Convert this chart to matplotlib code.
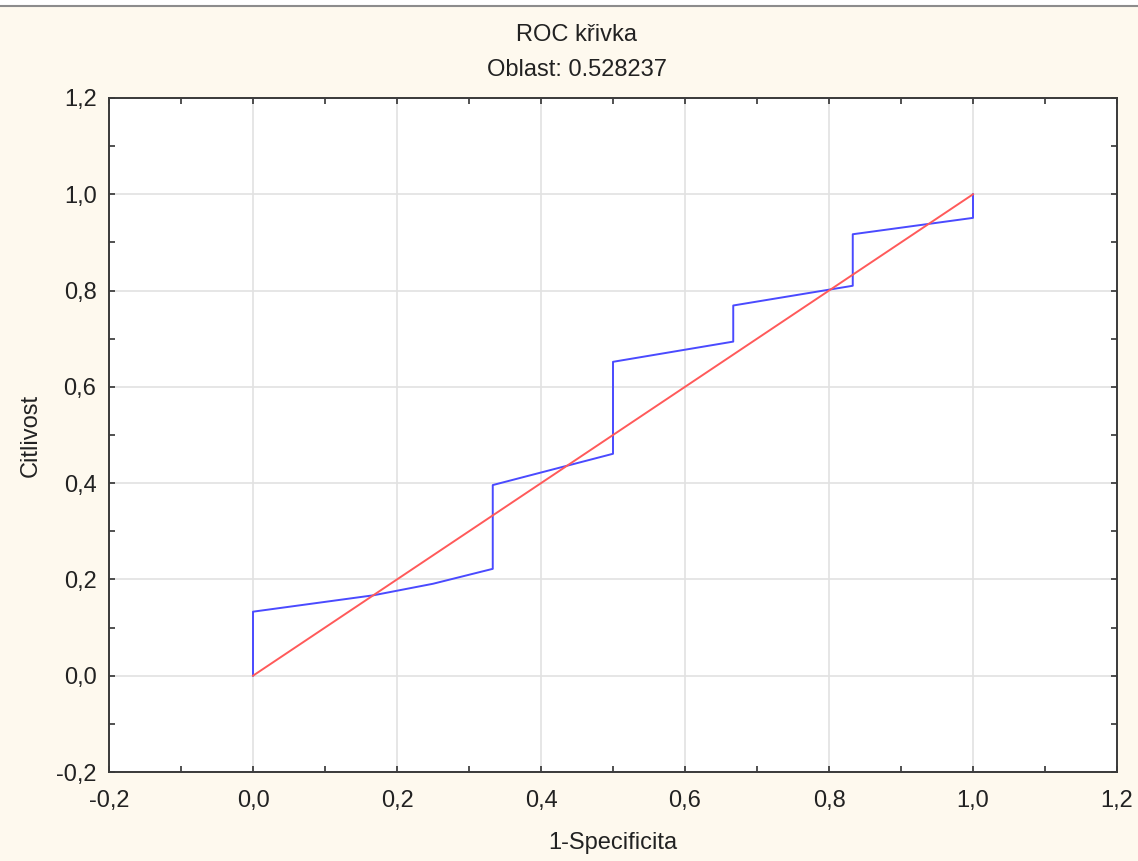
import numpy as np
import matplotlib.pyplot as plt
from matplotlib.lines import Line2D
from matplotlib.patches import Rectangle
from matplotlib.ticker import MultipleLocator, FuncFormatter

plt.rcParams['font.family'] = ['Liberation Sans', 'DejaVu Sans']

# Data
fpr = [0.0, 0.0, 0.167, 0.25, 0.333, 0.333, 0.5, 0.5, 0.667, 0.667, 0.833, 0.833, 1.0, 1.0]
tpr = [0.0, 0.133, 0.167, 0.191, 0.222, 0.396, 0.461, 0.652, 0.694, 0.769, 0.810, 0.917, 0.951, 1.0]
diag_x = [0.0, 1.0]
diag_y = [0.0, 1.0]
area = 0.528237

bg = '#fef9ee'
fig = plt.figure(figsize=(11.38, 8.61), dpi=100, facecolor=bg)
# white strip + gray rule at the very top
fig.add_artist(Rectangle((0, 1 - 6 / 861), 1, 6 / 861, transform=fig.transFigure,
                         facecolor='white', edgecolor='none'))
fig.add_artist(Line2D([0, 1], [1 - 6 / 861, 1 - 6 / 861], transform=fig.transFigure,
                      color='#8c8c8c', lw=1.5))

ax = fig.add_axes([109 / 1138, 1 - 772 / 861, (1117 - 109) / 1138, (772 - 98) / 861])
ax.set_facecolor('white')

ax.plot(fpr, tpr, color='#4a4aff', lw=1.4, zorder=3)
ax.plot(diag_x, diag_y, color='#ff5a5a', lw=1.4, zorder=4)

ax.set_xlim(-0.2, 1.2)
ax.set_ylim(-0.2, 1.2)
ax.xaxis.set_major_locator(MultipleLocator(0.2))
ax.yaxis.set_major_locator(MultipleLocator(0.2))
ax.xaxis.set_minor_locator(MultipleLocator(0.1))
ax.yaxis.set_minor_locator(MultipleLocator(0.1))
fmt = FuncFormatter(lambda v, p: f"{v:.1f}".replace('.', ',').replace('-0,0', '0,0'))
ax.xaxis.set_major_formatter(fmt)
ax.yaxis.set_major_formatter(fmt)

ax.grid(True, which='major', color='#e2e2e2', lw=1.2, zorder=0)
ax.set_axisbelow(True)
ax.tick_params(which='both', direction='in', top=True, right=True, length=4,
               width=1.2, color='#333333', labelsize=17, labelcolor='#222222')
ax.tick_params(axis='x', pad=13)
ax.tick_params(axis='y', pad=9)
for s in ax.spines.values():
    s.set_color('#3a3a3a')
    s.set_linewidth(1.4)

ax.set_xlabel('1-Specificita', fontsize=17, color='#222222', labelpad=14)
ax.set_ylabel('Citlivost', fontsize=17, color='#222222', labelpad=10)

fig.text(577 / 1138, 1 - 35 / 861, 'ROC křivka', ha='center', va='center',
         fontsize=17, color='#222222')
fig.text(577 / 1138, 1 - 70 / 861, f'Oblast: {area:.6f}', ha='center', va='center',
         fontsize=17, color='#222222')

fig.savefig('out.png', dpi=100, facecolor=bg)
